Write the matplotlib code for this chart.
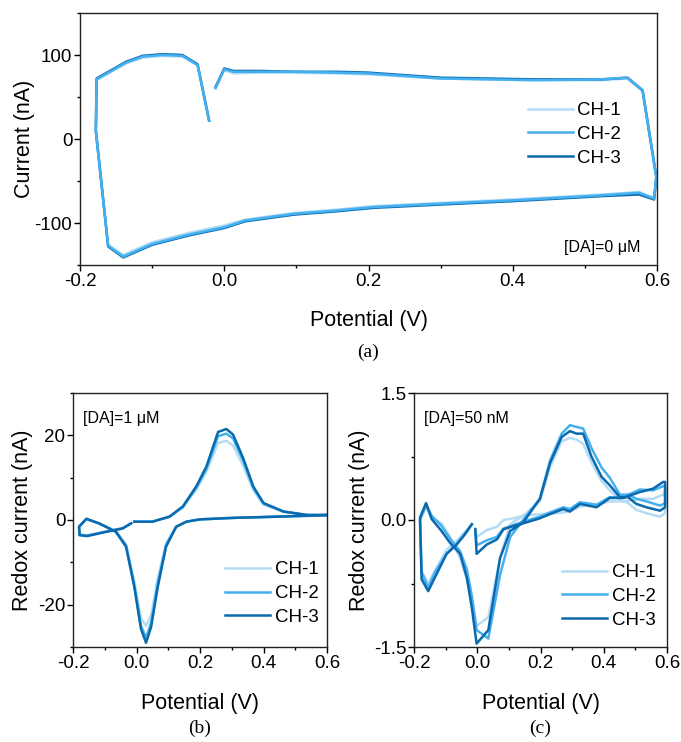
import matplotlib
matplotlib.use("Agg")
import matplotlib.pyplot as plt
from matplotlib.ticker import MultipleLocator, FormatStrFormatter

plt.rcParams['font.family'] = ['Liberation Sans', 'DejaVu Sans']
plt.rcParams['axes.unicode_minus'] = False

channels = ["CH-1", "CH-2", "CH-3"]
colors = ["#b5dcf5", "#45b0ef", "#0a6aad"]

# ---- Panel (a): [DA] = 0 uM ----
pot_a = [-0.012, 0.0, 0.013, 0.05, 0.1, 0.157, 0.2, 0.3, 0.43, 0.524, 0.559, 0.58, 0.599,
         0.596, 0.575, 0.524, 0.4, 0.3, 0.206, 0.157, 0.097, 0.029, 0.0, -0.05, -0.1,
         -0.14, -0.161, -0.178, -0.177, -0.136, -0.113, -0.086, -0.058, -0.037, -0.021]
cur_a1 = [60, 82, 78, 79, 79, 78, 77, 72, 70, 70, 72, 57, -45,
          -70, -63, -66, -72, -76, -80, -84, -88, -96, -103, -112, -123,
          -138, -126, 9, 70, 90, 97, 99, 98, 88, 22]
cur_a2 = [61, 83, 80, 80, 80, 79, 78, 72, 70, 71, 73, 58, -45,
          -71, -64, -67, -73, -77, -81, -85, -89, -97, -105, -114, -125,
          -140, -127, 9, 71, 91, 98, 100, 99, 88, 22]
cur_a3 = [62, 84, 81, 81, 80, 80, 79, 73, 71, 71, 73, 58, -45,
          -72, -66, -68, -74, -78, -82, -86, -90, -98, -106, -115, -126,
          -141, -128, 10, 72, 92, 99, 101, 100, 89, 22]

# ---- Panel (b): [DA] = 1 uM ----
pot_b = [-0.007, 0.05, 0.104, 0.146, 0.188, 0.22, 0.257, 0.283, 0.304, 0.336, 0.368, 0.4,
         0.463, 0.537, 0.6, 0.45, 0.304, 0.2, 0.157, 0.125, 0.093, 0.067, 0.046, 0.03,
         0.014, -0.007, -0.033, -0.065, -0.118, -0.158, -0.181, -0.179, -0.155, -0.097,
         -0.044, -0.017]
cur_b1 = [-0.4, -0.4, 0.7, 2.9, 7.2, 11.4, 18.2, 18.7, 17.6, 12.8, 7.0, 3.6,
          1.9, 1.1, 1.1, 0.8, 0.5, 0.1, -0.4, -1.5, -5.5, -13.8, -22.5, -25.0,
          -23.2, -14.5, -5.8, -2.6, -0.8, 0.2, -1.5, -3.4, -3.6, -2.7, -1.9, -0.8]
cur_b2 = [-0.4, -0.4, 0.8, 3.1, 7.6, 12.1, 19.8, 20.4, 19.3, 14.0, 7.6, 3.9,
          2.0, 1.2, 1.1, 0.8, 0.5, 0.15, -0.4, -1.6, -6.0, -15.0, -24.3, -27.8,
          -25.0, -15.3, -6.0, -2.7, -0.8, 0.2, -1.6, -3.5, -3.7, -2.8, -2.0, -0.8]
cur_b3 = [-0.4, -0.4, 0.8, 3.2, 7.9, 12.6, 20.8, 21.5, 20.2, 14.6, 7.9, 4.0,
          2.0, 1.2, 1.2, 0.8, 0.5, 0.15, -0.4, -1.6, -6.3, -15.8, -25.3, -29.0,
          -25.7, -15.8, -6.3, -2.8, -0.8, 0.3, -1.6, -3.6, -3.8, -2.8, -2.0, -0.8]

# ---- Panel (c): [DA] = 50 nM ----
pot_c = [-0.006, -0.002, 0.03, 0.062, 0.083, 0.115, 0.145, 0.198, 0.23, 0.272, 0.293, 0.325,
         0.377, 0.419, 0.461, 0.514, 0.556, 0.588, 0.594, 0.594, 0.578, 0.535, 0.503, 0.477,
         0.451, 0.419, 0.393, 0.361, 0.335, 0.314, 0.293, 0.267, 0.23, 0.198, 0.145, 0.104,
         0.072, 0.035, -0.002, -0.017, -0.033, -0.054, -0.086, -0.113, -0.144, -0.162,
         -0.181, -0.176, -0.155, -0.134, -0.097, -0.065, -0.039, -0.017]
cur_c1 = [-0.10, -0.20, -0.12, -0.08, 0.0, 0.02, 0.05, 0.07, 0.07, 0.09, 0.10, 0.16,
          0.18, 0.22, 0.22, 0.25, 0.25, 0.30, 0.35, 0.08, 0.04, 0.08, 0.12, 0.20,
          0.24, 0.35, 0.46, 0.68, 0.90, 0.95, 0.97, 0.93, 0.62, 0.22, 0.05, -0.05,
          -0.45, -1.15, -1.25, -0.95, -0.70, -0.45, -0.20, -0.04, 0.03, 0.15,
          0.0, -0.60, -0.75, -0.60, -0.35, -0.25, -0.14, -0.05]
cur_c2 = [-0.13, -0.30, -0.24, -0.20, -0.10, -0.06, -0.02, 0.04, 0.09, 0.15, 0.13, 0.21,
          0.18, 0.27, 0.27, 0.36, 0.35, 0.40, 0.40, 0.20, 0.17, 0.22, 0.25, 0.30,
          0.30, 0.50, 0.62, 0.85, 1.08, 1.10, 1.12, 1.02, 0.70, 0.25, 0.0, -0.20,
          -0.65, -1.40, -1.30, -0.90, -0.58, -0.37, -0.22, -0.07, 0.05, 0.18,
          0.0, -0.62, -0.80, -0.62, -0.40, -0.28, -0.16, -0.05]
cur_c3 = [-0.11, -0.40, -0.29, -0.23, -0.11, -0.07, -0.04, 0.02, 0.07, 0.13, 0.10, 0.19,
          0.15, 0.26, 0.26, 0.33, 0.37, 0.45, 0.45, 0.15, 0.11, 0.15, 0.19, 0.27,
          0.27, 0.41, 0.51, 0.75, 1.02, 1.02, 1.05, 0.98, 0.67, 0.25, -0.03, -0.13,
          -0.45, -1.30, -1.46, -1.04, -0.68, -0.40, -0.27, -0.13, 0.01, 0.20,
          0.03, -0.70, -0.84, -0.68, -0.40, -0.29, -0.17, -0.05]

W, H = 681, 742
fig = plt.figure(figsize=(W / 100, H / 100), dpi=100)


def rect(x0, y0, x1, y1):
    return [x0 / W, 1 - y1 / H, (x1 - x0) / W, (y1 - y0) / H]


ax_a = fig.add_axes(rect(80, 13, 657, 265))
ax_b = fig.add_axes(rect(73, 393, 327, 647))
ax_c = fig.add_axes(rect(414, 393, 667, 647))

TICK_FS = 13.5
LABEL_FS = 15.5
LEG_FS = 13.5
NOTE_FS = 11.5
PANEL_FS = 14
LEG_KW = dict(loc='upper left', frameon=False, fontsize=LEG_FS, handlelength=2.4,
              handletextpad=0.25, labelspacing=0.36, borderaxespad=0, borderpad=0)


def style(ax, ylim, ymaj, ymin, yfmt):
    ax.set_xlim(-0.2, 0.6)
    ax.set_ylim(*ylim)
    ax.xaxis.set_major_locator(MultipleLocator(0.2))
    ax.xaxis.set_minor_locator(MultipleLocator(0.1))
    ax.yaxis.set_major_locator(MultipleLocator(ymaj))
    ax.yaxis.set_minor_locator(MultipleLocator(ymin))
    ax.xaxis.set_major_formatter(FormatStrFormatter('%.1f'))
    ax.yaxis.set_major_formatter(FormatStrFormatter(yfmt))
    ax.tick_params(which='major', direction='out', length=4, width=1, labelsize=TICK_FS, pad=1.5)
    ax.tick_params(which='minor', direction='out', length=2.5, width=1)
    for s in ax.spines.values():
        s.set_linewidth(1)
        s.set_color('#222222')
    ax.set_xlabel("Potential (V)", fontsize=LABEL_FS)


# Panel (a): CH-2 drawn last so it dominates, as in the reference
for ys, c, lab in zip([cur_a1, cur_a3, cur_a2], [colors[0], colors[2], colors[1]],
                      [channels[0], channels[2], channels[1]]):
    ax_a.plot(pot_a, ys, color=c, lw=1.8, label=lab)
style(ax_a, (-150, 150), 100, 50, '%d')
ax_a.set_ylabel("Current (nA)", fontsize=LABEL_FS)
ax_a.xaxis.set_label_coords(0.5, -0.178)
ax_a.yaxis.set_label_coords(-0.078, 0.5)
h, l = ax_a.get_legend_handles_labels()
order = [l.index(n) for n in channels]
ax_a.legend([h[i] for i in order], [l[i] for i in order],
            bbox_to_anchor=(0.776, 0.647), **LEG_KW)
ax_a.text(0.972, 0.071, "[DA]=0 μM", transform=ax_a.transAxes, ha='right', va='center', fontsize=NOTE_FS)
fig.text(368 / W, 1 - 352 / H, "(a)", family='Liberation Serif', fontsize=PANEL_FS, ha='center', va='center')

for ys, c, lab in zip([cur_b1, cur_b2, cur_b3], colors, channels):
    ax_b.plot(pot_b, ys, color=c, lw=1.8, label=lab)
style(ax_b, (-30, 30), 20, 10, '%d')
ax_b.set_ylabel("Redox current (nA)", fontsize=LABEL_FS)
ax_b.xaxis.set_label_coords(0.5, -0.18)
ax_b.yaxis.set_label_coords(-0.158, 0.5)
ax_b.legend(bbox_to_anchor=(0.598, 0.338), **LEG_KW)
ax_b.text(0.04, 0.9, "[DA]=1 μM", transform=ax_b.transAxes, ha='left', va='center', fontsize=NOTE_FS)
fig.text(200 / W, 1 - 728 / H, "(b)", family='Liberation Serif', fontsize=PANEL_FS, ha='center', va='center')

for ys, c, lab in zip([cur_c1, cur_c2, cur_c3], colors, channels):
    ax_c.plot(pot_c, ys, color=c, lw=1.8, label=lab)
style(ax_c, (-1.5, 1.5), 1.5, 0.75, '%.1f')
ax_c.set_ylabel("Redox current (nA)", fontsize=LABEL_FS)
ax_c.xaxis.set_label_coords(0.5, -0.18)
ax_c.yaxis.set_label_coords(-0.174, 0.5)
ax_c.legend(bbox_to_anchor=(0.585, 0.327), **LEG_KW)
ax_c.text(0.04, 0.9, "[DA]=50 nM", transform=ax_c.transAxes, ha='left', va='center', fontsize=NOTE_FS)
fig.text(540 / W, 1 - 728 / H, "(c)", family='Liberation Serif', fontsize=PANEL_FS, ha='center', va='center')

fig.savefig("out.png", dpi=100)
